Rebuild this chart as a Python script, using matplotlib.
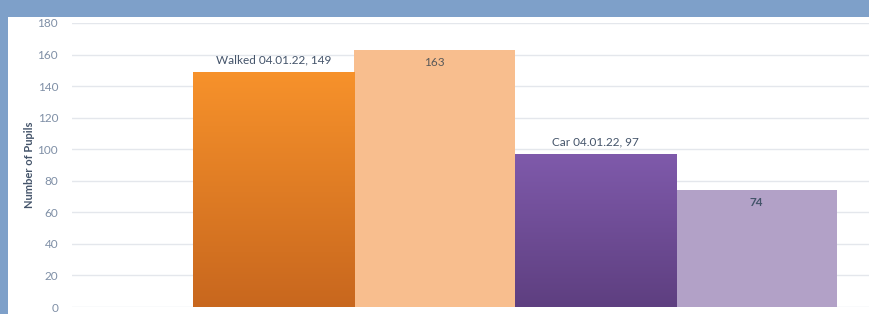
import numpy as np
import matplotlib.pyplot as plt
from matplotlib.colors import LinearSegmentedColormap

plt.rcParams['font.family'] = ['Lato', 'DejaVu Sans']

categories = ['Walked 04.01.22', 'Walked later', 'Car 04.01.22', 'Car later']
pupils = [149, 163, 97, 74]
labels = ['Walked 04.01.22, 149', '163', 'Car 04.01.22, 97', '74']
yticks = [0, 20, 40, 60, 80, 100, 120, 140, 160, 180]

flat_colors = [None, '#F8BE8E', None, '#B2A1C7']
gradients = [('#F7922B', '#C8671E'), None, ('#7F5AAB', '#5E3F80'), None]

fig = plt.figure(figsize=(8.69, 3.14), dpi=100)
fig.patch.set_facecolor('#7EA0C9')
# white slide panel
panel = fig.add_axes([8 / 869, 0, 1, 1 - 17 / 314])
panel.set_facecolor('white')
panel.set_xticks([])
panel.set_yticks([])
for s in panel.spines.values():
    s.set_visible(False)

ax = fig.add_axes([72 / 869, 7 / 314, 1 - 72 / 869, 284 / 314])
ax.set_facecolor('none')
x = np.arange(len(categories))
bars = ax.bar(x, pupils, width=1.0, color=[c or '#ffffff' for c in flat_colors],
              edgecolor='none', zorder=2)

for b, g in zip(bars, gradients):
    if g is None:
        continue
    cmap = LinearSegmentedColormap.from_list('g', [g[1], g[0]])
    x0, y0 = b.get_x(), b.get_y()
    im = ax.imshow(np.linspace(0, 1, 256).reshape(-1, 1), cmap=cmap, aspect='auto',
                   origin='lower', extent=[x0, x0 + b.get_width(), y0, y0 + b.get_height()],
                   zorder=3)
    im.set_clip_path(b)

ax.set_xlim(-1.25, 3.70)
ax.set_ylim(0, 180)
ax.set_yticks(yticks)
ax.set_xticks([])
ax.yaxis.grid(True, color='#E4E7EC', linewidth=1.0, zorder=0)
ax.set_axisbelow(True)
ax.tick_params(axis='y', length=0, pad=10, labelsize=8.5, labelcolor='#7F8FA6')
for s in ax.spines.values():
    s.set_visible(False)

ax.set_ylabel('Number of Pupils', fontsize=8, fontweight='bold', color='#44546A', labelpad=2)

# data labels
ax.text(x[0], pupils[0] + 4, labels[0], ha='center', va='bottom', fontsize=8.5,
        color='#44546A', zorder=5)
ax.text(x[1], pupils[1] - 8, labels[1], ha='center', va='center', fontsize=8.5,
        color='#595959', zorder=5)
ax.text(x[2], pupils[2] + 4, labels[2], ha='center', va='bottom', fontsize=8.5,
        color='#44546A', zorder=5)
ax.text(x[3], pupils[3] - 8, labels[3], ha='center', va='center', fontsize=8.5,
        color='#44546A', fontweight='bold', zorder=5)

fig.savefig('out.png', dpi=100)
